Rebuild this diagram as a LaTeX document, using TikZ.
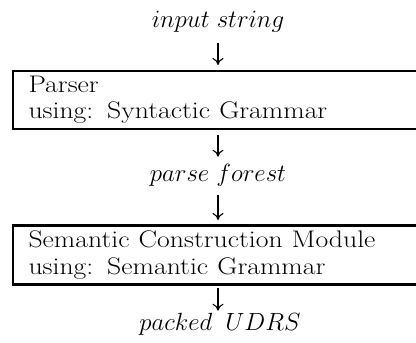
\documentclass[tikz,border=0pt]{standalone}
\usetikzlibrary{arrows.meta}
\newcommand{\hstretch}[1]{\scalebox{1.155}[1]{#1}}
\begin{document}
\begin{tikzpicture}[x=1pt,y=-1pt,
  lbl/.style={inner sep=0pt, outer sep=0pt, anchor=base, font=\fontsize{24}{26.5}\selectfont},
  modbox/.style={outer sep=0pt, anchor=north west, inner xsep=15.5pt, inner ysep=0pt,
    text width=340pt, align=left,
    font=\fontsize{24}{26.5}\selectfont},
  frame/.style={line width=2.6pt},
  flow/.style={line width=1.1pt, -{Computer Modern Rightarrow[length=7pt,width=11pt]}}]
\useasboundingbox (0,0) rectangle (416,343);
\coordinate (edge) at (417,0);
\node[lbl] (in) at (218,27) {$input\ string$};
\node[modbox, minimum height=58pt] (parser) at (13,71) {\hstretch{Parser}\\\hstretch{using: Syntactic Grammar}};
\node[lbl] (pf) at (218,181) {$parse\ forest$};
\node[modbox, minimum height=59pt] (sem) at (13,225.5) {\hstretch{Semantic Construction Module}\\\hstretch{using: Semantic Grammar}};
\node[lbl] (out) at (220,330) {$packed\hspace{13pt}UDRS$};
\draw[frame] (parser.north west -| edge) -- (parser.north west) -- (parser.south west) -- (parser.south west -| edge);
\draw[frame] (sem.north west -| edge) -- (sem.north west) -- (sem.south west) -- (sem.south west -| edge);
\draw[flow, shorten <=11pt, shorten >=6pt] (in.south) -- (in.south |- parser.north);
\draw[flow, shorten <=6pt, shorten >=7pt] (pf.north |- parser.south) -- (pf.north);
\draw[flow, shorten <=9pt, shorten >=5.5pt] (pf.south) -- (pf.south |- sem.north);
\draw[flow, shorten <=3.5pt, shorten >=2pt] (pf.south |- sem.south) -- (pf.south |- out.north);
\end{tikzpicture}
\end{document}
